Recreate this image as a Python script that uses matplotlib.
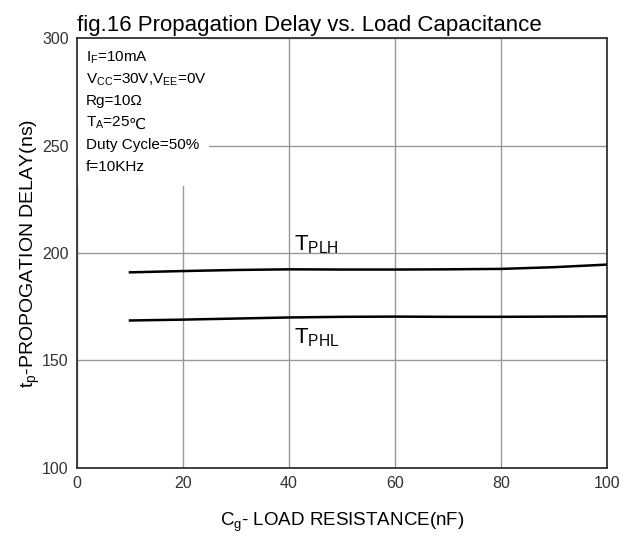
import matplotlib.pyplot as plt
from matplotlib.patches import Rectangle

plt.rcParams['font.family'] = ['Liberation Sans', 'DejaVu Sans']
plt.rcParams['mathtext.fontset'] = 'custom'
plt.rcParams['mathtext.rm'] = 'Liberation Sans'
plt.rcParams['mathtext.it'] = 'Liberation Sans'

# data
load_nf = [10, 20, 30, 40, 50, 60, 70, 80, 90, 100]
t_plh = [191.0, 191.6, 192.1, 192.4, 192.3, 192.3, 192.4, 192.6, 193.4, 194.6]
t_phl = [168.6, 169.0, 169.5, 170.0, 170.3, 170.4, 170.3, 170.3, 170.4, 170.5]

x_ticks = [0, 20, 40, 60, 80, 100]
y_ticks = [100, 150, 200, 250, 300]

conditions = [r'$\mathrm{I_F}$=10mA',
              r'$\mathrm{V_{CC}}$=30V,$\mathrm{V_{EE}}$=0V',
              'Rg=10Ω',
              r'$\mathrm{T_A}$=25',
              'Duty Cycle=50%',
              'f=10KHz']

fig = plt.figure(figsize=(6.31, 5.36), dpi=100)
ax = fig.add_axes([0.122, 0.127, 0.840, 0.802])

ax.set_xlim(0, 100)
ax.set_ylim(100, 300)
ax.set_xticks(x_ticks)
ax.set_yticks(y_ticks)
ax.grid(True, color='#999999', linewidth=1.0)
ax.set_axisbelow(True)
ax.tick_params(length=0, labelsize=11.5, colors='#333333', pad=6)
for s in ax.spines.values():
    s.set_color('#333333')
    s.set_linewidth(1.3)

# white area behind the conditions text, cuts the grid
ax.add_patch(Rectangle((0, 0.655), 0.25, 0.345, transform=ax.transAxes,
                       facecolor='white', edgecolor='none', zorder=1))

ax.plot(load_nf, t_plh, color='black', linewidth=1.8, zorder=3)
ax.plot(load_nf, t_phl, color='black', linewidth=1.8, zorder=3)

ax.text(41, 201, r'$\mathrm{T_{PLH}}$', fontsize=16, va='baseline', zorder=4)
ax.text(41, 158, r'$\mathrm{T_{PHL}}$', fontsize=16, va='baseline', zorder=4)

y0 = 0.955
for i, line in enumerate(conditions):
    t = ax.text(0.017, y0 - i * 0.051, line, transform=ax.transAxes,
                fontsize=11, va='center', zorder=4)
    if i == 3:
        ax.annotate('\u2103', xy=(1, 0), xycoords=t, xytext=(-1, 0),
                    textcoords='offset points', va='bottom', ha='left',
                    fontsize=11, family=['DejaVu Sans'], zorder=4)

ax.set_title('fig.16 Propagation Delay vs. Load Capacitance', fontsize=16,
             loc='left', x=0.0, pad=5)
ax.set_xlabel(r'$\mathrm{C_g}$- LOAD RESISTANCE(nF)', fontsize=13.5)
ax.xaxis.set_label_coords(0.5, -0.1)
ax.set_ylabel(r'$\mathrm{t_p}$-PROPOGATION DELAY(ns)', fontsize=14)
ax.yaxis.set_label_coords(-0.066, 0.5)

fig.savefig('out.png', dpi=100)
